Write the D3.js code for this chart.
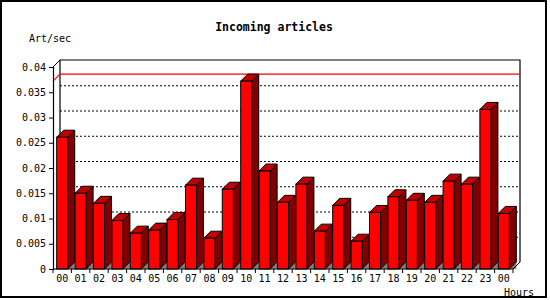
<!DOCTYPE html>
<html lang="en">
<head>
<meta charset="UTF-8">
<title>Incoming articles</title>
<style>
  html, body { margin: 0; padding: 0; background: #fff; }
  svg { display: block; }
  text { font-family: "DejaVu Sans Mono", monospace; fill: #000; }
</style>
</head>
<body>
<svg width="550" height="300"></svg>
<script src="https://cdn.jsdelivr.net/npm/d3@7/dist/d3.min.js"></script>
<script>
    // hours shown on the x axis (last bucket wraps to 00)
    const hours = ["00","01","02","03","04","05","06","07","08","09","10","11",
                   "12","13","14","15","16","17","18","19","20","21","22","23","00"];
    // articles per second
    const rates = [0.0261, 0.0150, 0.0130, 0.0096, 0.0071, 0.0077, 0.0098, 0.0166,
                   0.0061, 0.0158, 0.0372, 0.0194, 0.0132, 0.0168, 0.0075, 0.0126,
                   0.0055, 0.0112, 0.0143, 0.0136, 0.0132, 0.0174, 0.0168, 0.0316, 0.0110];
    const yTicks = [0, 0.005, 0.01, 0.015, 0.02, 0.025, 0.03, 0.035, 0.04];

    const width = 550, height = 300;
    const plotL = 53, plotR = 513, plotT = 67, plotB = 269;
    const depth = 7;

    const svg = d3.select("svg");

    // outer frame
    svg.append("rect")
        .attr("x", 1).attr("y", 1)
        .attr("width", width - 5).attr("height", height - 4)
        .attr("fill", "#fff").attr("stroke", "#000").attr("stroke-width", 2);

    const idx = d3.range(hours.length);
    const x = d3.scaleBand().domain(idx).range([plotL, plotR])
        .paddingInner(0.4).paddingOuter(0.2);
    const y = d3.scaleLinear().domain([0, 0.04]).range([plotB, plotT]);
    const step = x.step();
    const bandStart = i => x(i) - step * 0.2;

    // back wall grid lines (dotted)
    svg.append("g")
        .selectAll("line")
        .data(yTicks.filter(t => t > 0 && t < 0.04))
        .join("line")
        .attr("x1", plotL + depth).attr("x2", plotR + depth)
        .attr("y1", d => y(d) - depth + 0.5).attr("y2", d => y(d) - depth + 0.5)
        .attr("stroke", "#000").attr("stroke-dasharray", "2,2");

    // back wall outline
    svg.append("path")
        .attr("d", `M${plotL + depth},${plotB - depth}V${plotT - depth}H${plotR + depth}V${plotB - depth}`)
        .attr("fill", "none").attr("stroke", "#000").attr("stroke-width", 1.2);
    svg.append("line")
        .attr("x1", plotL).attr("y1", y(0.04))
        .attr("x2", plotL + depth).attr("y2", y(0.04) - depth)
        .attr("stroke", "#000");

    // max value line
    const maxV = d3.max(rates);
    svg.append("path")
        .attr("d", `M${plotL},${y(maxV)}L${plotL + depth},${y(maxV) - depth}H${plotR + depth}`)
        .attr("fill", "none").attr("stroke", "#f00").attr("stroke-width", 1.2);

    // bars
    const w = x.bandwidth();
    const bars = svg.append("g").selectAll("g").data(rates).join("g");
    bars.append("path")
        .attr("fill", "#808080")
        .attr("d", (d, i) => {
            const x1 = x(i) + w;
            return `M${x1},${plotB}L${x1 + depth},${plotB - depth}V${plotB}Z`;
        });
    bars.append("path")
        .attr("fill", "#800000").attr("stroke", "#000").attr("stroke-linejoin", "round")
        .attr("d", (d, i) => {
            const x1 = x(i) + w, yt = y(d);
            return `M${x1},${yt}L${x1 + depth},${yt - depth}V${plotB - depth}L${x1},${plotB}Z`;
        });
    bars.append("path")
        .attr("fill", "#c00000").attr("stroke", "#000").attr("stroke-linejoin", "round")
        .attr("d", (d, i) => {
            const x0 = x(i), yt = y(d);
            return `M${x0},${yt}L${x0 + depth},${yt - depth}H${x0 + w + depth}L${x0 + w},${yt}Z`;
        });
    bars.append("rect")
        .attr("x", (d, i) => x(i)).attr("y", d => y(d))
        .attr("width", w).attr("height", d => plotB - y(d))
        .attr("fill", "#f00").attr("stroke", "#000");

    // floor right edge
    svg.append("line")
        .attr("x1", plotR).attr("y1", plotB)
        .attr("x2", plotR + depth).attr("y2", plotB - depth)
        .attr("stroke", "#000");

    // y axis
    const yAxis = svg.append("g")
        .attr("transform", `translate(${plotL},0)`)
        .call(d3.axisLeft(y).tickValues(yTicks).tickSize(4).tickPadding(3)
            .tickFormat(d3.format("~g")));
    yAxis.select(".domain").attr("stroke-width", 1.2);
    yAxis.selectAll("text").style("font-family", "DejaVu Sans Mono").style("font-size", "10px");

    // x axis: labels at band centres, ticks at band edges
    const xAxis = svg.append("g")
        .attr("transform", `translate(0,${plotB})`)
        .call(d3.axisBottom(x).tickSize(0).tickPadding(6).tickFormat(i => hours[i]));
    xAxis.select(".domain").remove();
    xAxis.selectAll("text").style("font-family", "DejaVu Sans Mono").style("font-size", "10px");
    svg.append("line")
        .attr("x1", plotL).attr("x2", plotR).attr("y1", plotB).attr("y2", plotB)
        .attr("stroke", "#000").attr("stroke-width", 1.2);
    svg.append("g").selectAll("line")
        .data(d3.range(hours.length + 1))
        .join("line")
        .attr("x1", i => i < hours.length ? bandStart(i) : bandStart(i - 1) + step)
        .attr("x2", i => i < hours.length ? bandStart(i) : bandStart(i - 1) + step)
        .attr("y1", plotB).attr("y2", plotB + 4)
        .attr("stroke", "#000");

    // titles
    svg.append("text")
        .attr("x", 274).attr("y", 31)
        .attr("text-anchor", "middle")
        .style("font-size", "11.5px").style("font-weight", "bold")
        .text("Incoming articles");
    svg.append("text")
        .attr("x", 29).attr("y", 42)
        .style("font-size", "10px")
        .text("Art/sec");
    svg.append("text")
        .attr("x", 534).attr("y", 296)
        .attr("text-anchor", "end")
        .style("font-size", "10px")
        .text("Hours");
</script>
</body>
</html>
